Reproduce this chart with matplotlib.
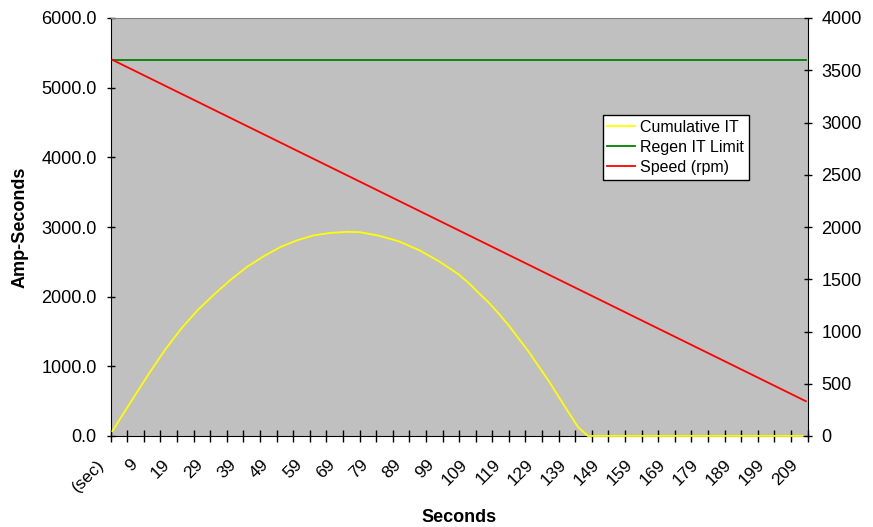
import numpy as np
import matplotlib
matplotlib.use("Agg")
import matplotlib.pyplot as plt
import matplotlib.transforms as mtransforms

plt.rcParams["font.family"] = ["Liberation Sans", "DejaVu Sans"]

# ── Data (category index 0 is "(sec)", index k is second k-1) ───────
n_categories = 211
tick_label_pos = [0, 10, 20, 30, 40, 50, 60, 70, 80, 90, 100,
                  110, 120, 130, 140, 150, 160, 170, 180, 190, 200, 210]
tick_labels = ["(sec)", "9", "19", "29", "39", "49", "59", "69", "79", "89", "99",
               "109", "119", "129", "139", "149", "159", "169", "179", "189", "199", "209"]

it_pos = [0, 6, 11, 16, 21, 26, 31, 36, 41, 46, 51, 56, 61, 66, 71, 75,
          81, 87, 90, 93, 99, 102, 105, 108, 111, 114, 117, 120, 123, 126,
          129, 132, 135, 138, 141, 144, 209]
it_val = [70, 520, 890, 1240, 1550, 1815, 2040, 2250, 2435, 2585, 2715, 2810, 2880, 2915, 2930, 2926,
          2872, 2790, 2727, 2665, 2505, 2411, 2315, 2192, 2050, 1914, 1756, 1589, 1400, 1215,
          1005, 800, 575, 350, 130, 0, 0]

limit_pos = [0, 210]
limit_val = [5400, 5400]

speed_pos = [0, 210]
speed_val = [3600, 333]

C_BG = "#C0C0C0"
C_YELLOW = "#FFFF00"
C_GREEN = "#008000"
C_RED = "#FF0000"

fig = plt.figure(figsize=(8.73, 5.27), dpi=100, facecolor="white")
ax = fig.add_axes([110.7 / 873, 1 - 436 / 527, 696.8 / 873, 418 / 527])
ax.set_facecolor(C_BG)
ax2 = ax.twinx()

l1, = ax.plot(it_pos, it_val, color=C_YELLOW, lw=1.3, label="Cumulative IT",
              clip_on=False, zorder=3)
l2, = ax.plot(limit_pos, limit_val, color=C_GREEN, lw=1.3, label="Regen IT Limit")
l3, = ax2.plot(speed_pos, speed_val, color=C_RED, lw=1.3, label="Speed (rpm)")

ax.set_xlim(-0.5, n_categories - 0.5)
ax.set_ylim(0, 6000)
ax2.set_ylim(0, 4000)

ax.set_yticks(np.arange(0, 6001, 1000))
ax.set_yticklabels([f"{v:.1f}" for v in np.arange(0, 6001, 1000)])
ax2.set_yticks(np.arange(0, 4001, 500))

# tick marks between category groups, labels on categories
ax.set_xticks(tick_label_pos)
ax.set_xticklabels(tick_labels, rotation=45, ha="right", va="top", fontsize=12.5)
ax.set_xticks(np.linspace(-0.5, n_categories - 0.5, 43), minor=True)
ax.tick_params(axis="x", which="major", length=0, pad=15)
ax.tick_params(axis="x", which="minor", direction="inout", length=9, width=1, color="black")
shift = mtransforms.ScaledTranslation(-4 / 72, 0, fig.dpi_scale_trans)
for lab in ax.get_xticklabels():
    lab.set_transform(lab.get_transform() + shift)

ax.tick_params(axis="y", direction="inout", length=6, width=1, labelsize=13, pad=7)
ax2.tick_params(axis="y", direction="inout", length=6, width=1, labelsize=13, pad=7)

for sp in ["left", "bottom"]:
    ax.spines[sp].set_color("black")
ax.spines["top"].set_color("#808080")
ax.spines["right"].set_visible(False)
for sp in ["left", "bottom", "top"]:
    ax2.spines[sp].set_visible(False)
ax2.spines["right"].set_color("black")

fig.text(20 / 873, 1 - 227 / 527, "Amp-Seconds", rotation=90, ha="center", va="center",
         fontsize=13, fontweight="bold")
fig.text(459 / 873, 1 - 517 / 527, "Seconds", ha="center", va="center",
         fontsize=13, fontweight="bold")

leg = ax2.legend(handles=[l1, l2, l3], loc="upper left", bbox_to_anchor=(0.706, 0.768),
                 borderaxespad=0, fontsize=11.5, frameon=True, fancybox=False,
                 edgecolor="black", facecolor="white", framealpha=1,
                 handlelength=1.75, handletextpad=0.3, labelspacing=0.32,
                 borderpad=0.3)
leg.get_frame().set_linewidth(1)

fig.savefig("out.png", dpi=100, facecolor="white")
